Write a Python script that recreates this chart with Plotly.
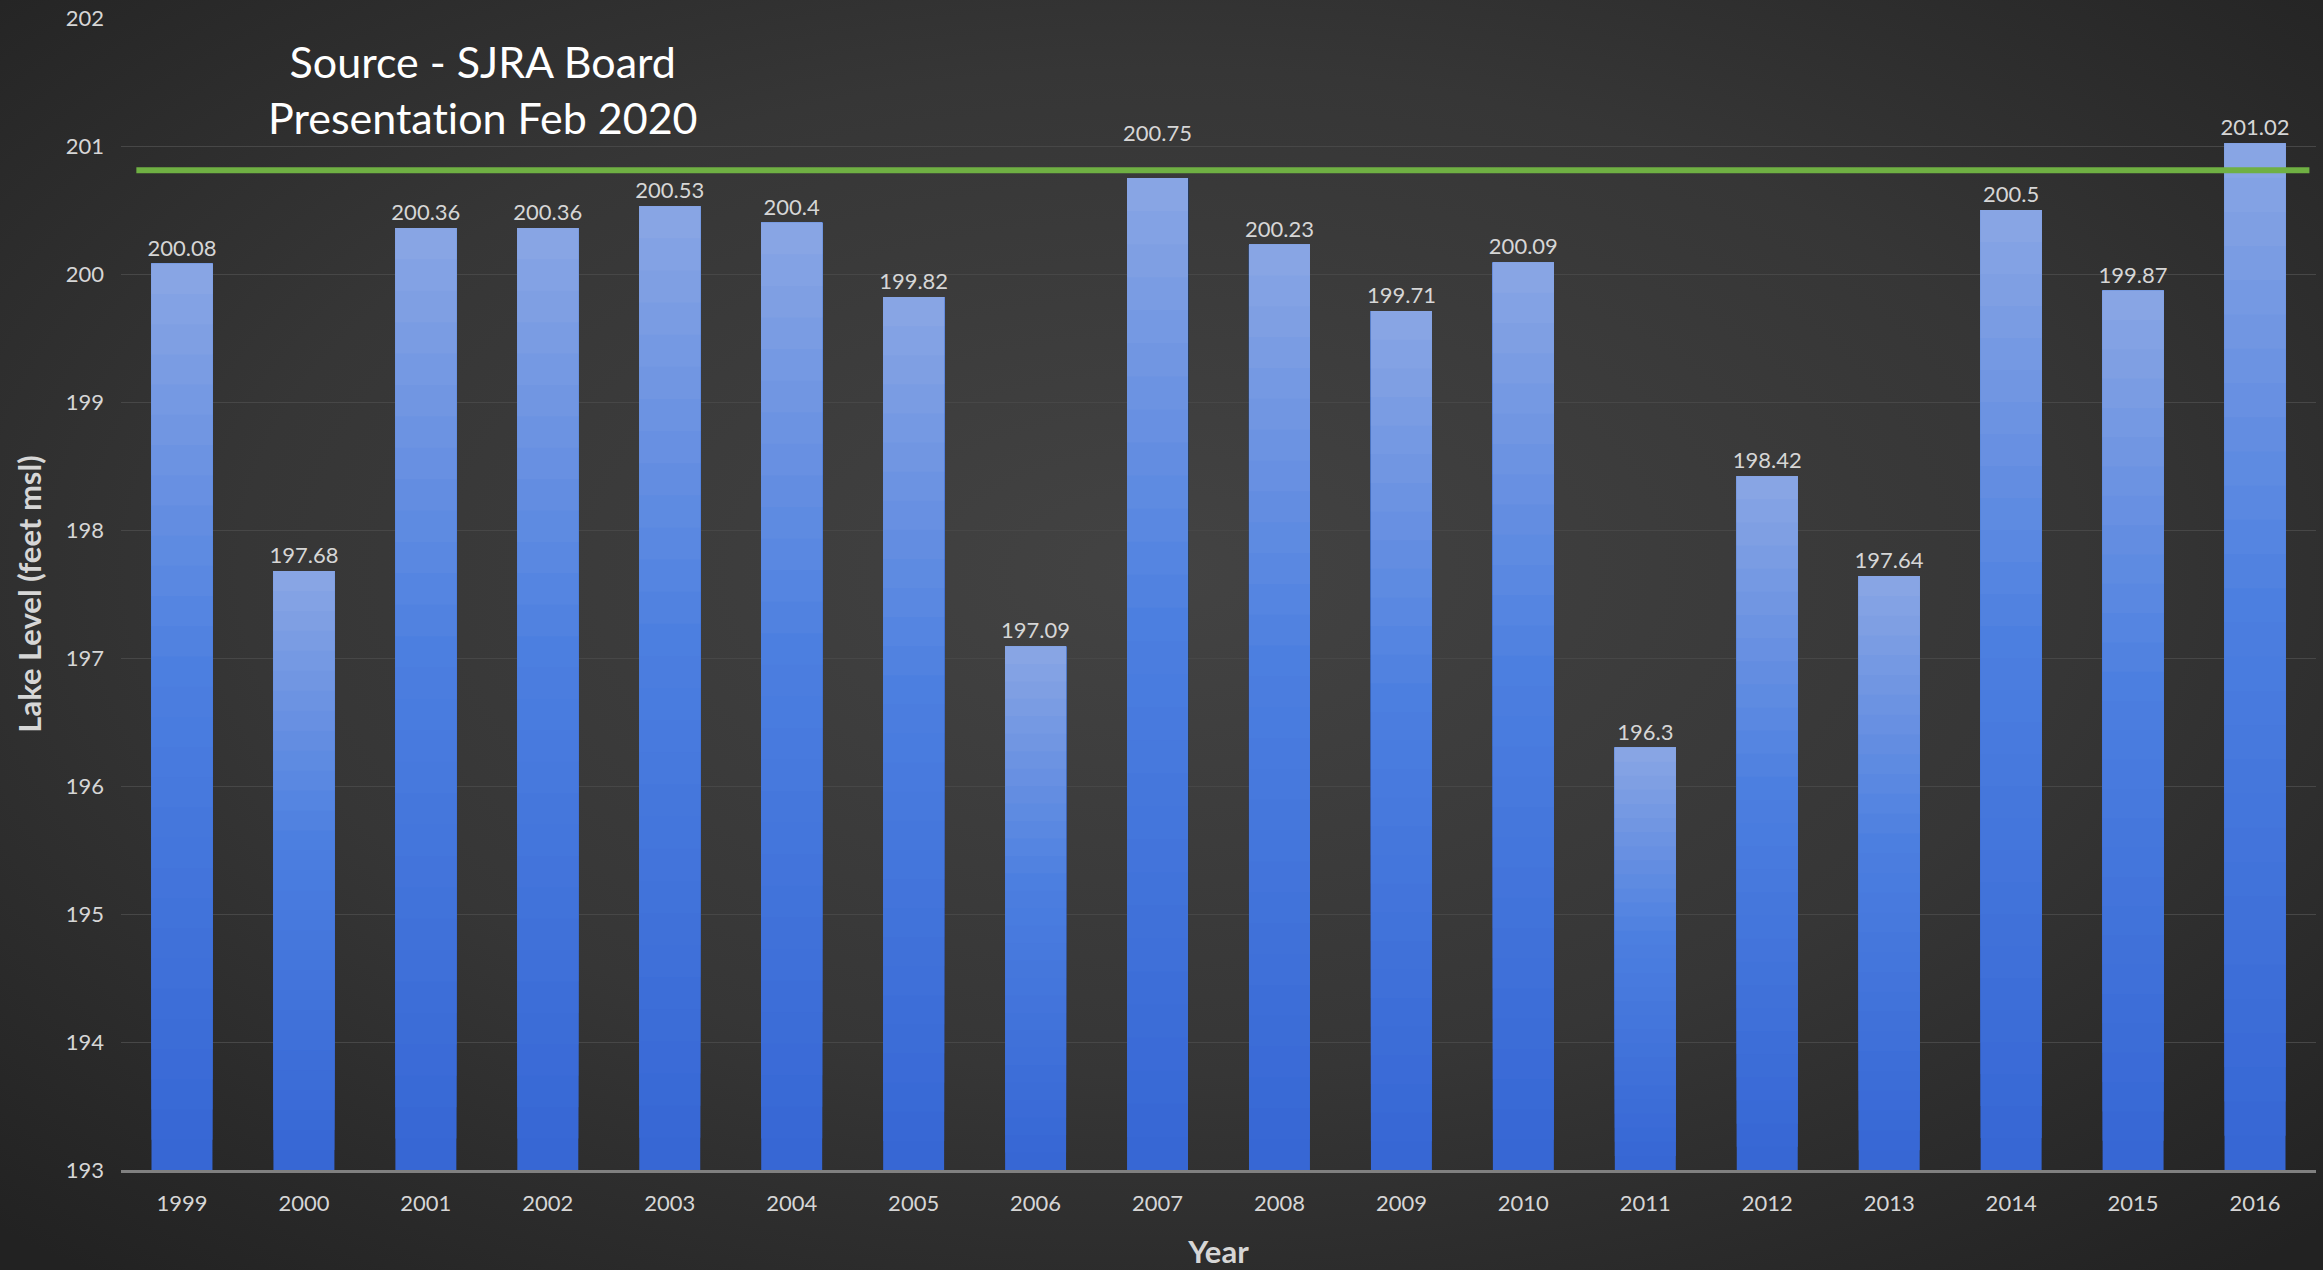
import base64
import plotly.graph_objects as go

# ---- data ----
years = ["1999", "2000", "2001", "2002", "2003", "2004", "2005", "2006", "2007",
         "2008", "2009", "2010", "2011", "2012", "2013", "2014", "2015", "2016"]
levels = [200.08, 197.68, 200.36, 200.36, 200.53, 200.4, 199.82, 197.09, 200.75,
          200.23, 199.71, 200.09, 196.3, 198.42, 197.64, 200.5, 199.87, 201.02]
level_labels = [str(v) for v in levels]
raised_label_year = "2007"   # label that sits above the reference line
reference_level = 200.81
y_min, y_max = 193, 202
y_ticks = list(range(193, 203))

# ---- styling helpers ----
def lerp(c1, c2, t):
    return tuple(round(a + (b - a) * t) for a, b in zip(c1, c2))

BOTTOM = (54, 102, 212)
MID = (76, 127, 224)
TOP = (138, 166, 228)

def grad_color(t):
    if t < 0.55:
        c = lerp(BOTTOM, MID, t / 0.55)
    else:
        c = lerp(MID, TOP, (t - 0.55) / 0.45)
    return "rgb(%d,%d,%d)" % c

LABEL_FONT = dict(family="Lato", size=22, color="#d6d6d6")

bar_text = ["" if y == raised_label_year else s for y, s in zip(years, level_labels)]

N_LAYERS = 30
fig = go.Figure()
for k in range(N_LAYERS):
    f = k / N_LAYERS
    bases = [y_min + (v - y_min) * f for v in levels]
    lengths = [(v - y_min) * (1 - f) for v in levels]
    last = k == N_LAYERS - 1
    fig.add_trace(go.Bar(
        x=years, y=lengths, base=bases, width=0.5,
        marker=dict(color=grad_color((k + 0.5) / N_LAYERS), line=dict(width=0)),
        text=bar_text if last else None,
        texttemplate="%{text}" if last else None,
        textposition="outside" if last else "none",
        constraintext="none",
        textfont=LABEL_FONT,
        cliponaxis=False,
        hoverinfo="skip" if not last else None,
        showlegend=False,
    ))

# background radial gradient (SVG)
svg = ('<svg xmlns="http://www.w3.org/2000/svg" width="2323" height="1270" '
       'preserveAspectRatio="none" viewBox="0 0 2323 1270">'
       '<defs><radialGradient id="g" cx="0.5" cy="0.45" r="0.72">'
       '<stop offset="0" stop-color="#434343"/>'
       '<stop offset="0.55" stop-color="#363636"/>'
       '<stop offset="1" stop-color="#222222"/>'
       '</radialGradient></defs>'
       '<rect width="2323" height="1270" fill="url(#g)"/></svg>')
src = "data:image/svg+xml;base64," + base64.b64encode(svg.encode()).decode()

W, H = 2323, 1270
L, R, T, B = 121, 7, 18, 100
pw, ph = W - L - R, H - T - B

annotations = [dict(text="Source - SJRA Board<br>Presentat\u200cion Feb 2020",
                    xref="paper", yref="paper", x=0.165, y=0.938,
                    xanchor="center", yanchor="middle", showarrow=False,
                    font=dict(family="Lato", size=43, color="#ffffff"))]
for i, (y, v, s) in enumerate(zip(years, levels, level_labels)):
    if y == raised_label_year:
        annotations.append(dict(text=s, x=i, y=v, xref="x", yref="y",
                                yanchor="bottom", yshift=30, showarrow=False,
                                font=LABEL_FONT))

fig.update_layout(
    width=W, height=H,
    margin=dict(l=L, r=R, t=T, b=B, autoexpand=False),
    barmode="overlay",
    paper_bgcolor="#2c2c2c",
    plot_bgcolor="rgba(0,0,0,0)",
    font=dict(family="Lato", color="#d6d6d6"),
    images=[dict(source=src, xref="paper", yref="paper",
                 x=-L / pw, y=1 + T / ph, sizex=W / pw, sizey=H / ph,
                 xanchor="left", yanchor="top", sizing="stretch", layer="below")],
    shapes=[dict(type="line", xref="paper", yref="y", x0=0.007, x1=0.997,
                 y0=reference_level, y1=reference_level,
                 line=dict(color="#6fb043", width=6))],
    annotations=annotations,
    xaxis=dict(
        type="category", categoryorder="array", categoryarray=years,
        range=[-0.5, len(years) - 0.5],
        showgrid=False, showline=True, linecolor="#808080",
        linewidth=3, ticks="", ticklabelstandoff=12,
        tickfont=dict(family="Lato", size=22, color="#d6d6d6"),
        title=dict(text="<b>Year</b>", standoff=27,
                   font=dict(family="Lato", size=31, color="#d6d6d6")),
        automargin=False,
    ),
    yaxis=dict(
        range=[y_min, y_max], tickvals=y_ticks, showgrid=True,
        gridcolor="#474747", gridwidth=1, zeroline=False, showline=False,
        ticklabelstandoff=16,
        tickfont=dict(family="Lato", size=22, color="#d6d6d6"),
        title=dict(text="<b>Lake Level (feet msl)</b>", standoff=14,
                   font=dict(family="Lato", size=31, color="#d6d6d6")),
        automargin=False,
    ),
)

fig.write_html("out.html",
               config={"displayModeBar": False},
               post_script="document.body.style.margin='0';document.body.style.overflow='hidden';")
